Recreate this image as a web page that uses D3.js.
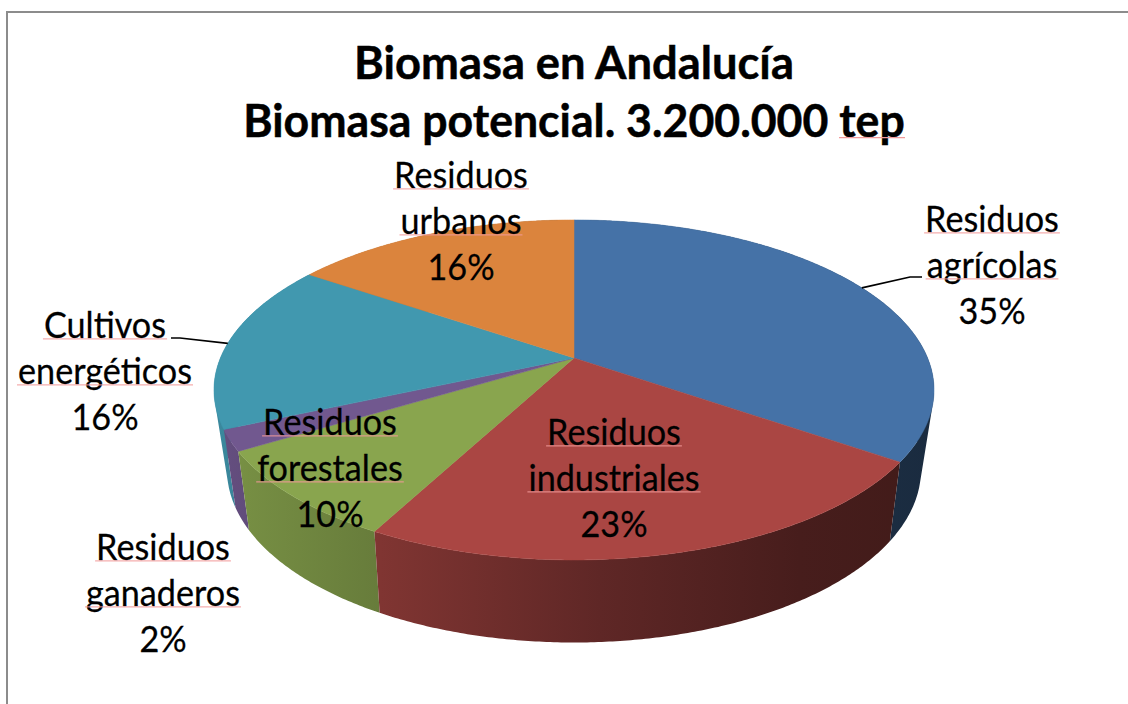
<!DOCTYPE html>
<html lang="es">
<head>
<meta charset="utf-8">
<script src="https://cdn.jsdelivr.net/npm/d3@7/dist/d3.min.js"></script>
<style>
html,body{margin:0;padding:0;background:#fff;overflow:hidden}
svg{display:block}
text{font-family:Lato,"Open Sans",sans-serif;fill:#000}
</style>
</head>
<body>
<svg id="c" width="1128" height="704"></svg>
<script>
// ---- data ----
const titleLines = ["Biomasa en Andalucía", "Biomasa potencial. 3.200.000 tep"];
const categories = ["Residuos agrícolas", "Residuos industriales", "Residuos forestales", "Residuos ganaderos", "Cultivos energéticos", "Residuos urbanos"];
const percentLabels = [35, 23, 10, 2, 16, 16];
// drawn share of each slice as seen in the picture
const drawnShares = [34.6, 23.2, 8.6, 2.0, 16.1, 15.5];
const colors = ["#4572A7", "#AA4643", "#89A54E", "#71588F", "#4198AF", "#DB843D"];

// ---- layout ----
const W = 1128, H = 704;
const topPlane = {cx: 574, cy: 358, R: 353.6, H: 164, k: 0.188};
const basePlane = {cx: 574, cy: 435, R: 340, H: 166, k: 0.2};
const labelCenters = [992, 614, 330, 163, 105, 461];
const labelBaselines = [232, 445, 435, 560, 338, 188];
const lineGap = 46;
const labelFont = 36, titleFont = 46;
const labelScaleX = 0.95, titleScaleX = [0.985, 0.97];

const svg = d3.select("#c");
const defs = svg.append("defs");
const project = (a, p) => {
  const u = Math.sin(a), v = -Math.cos(a), d = 1 - p.k * v;
  return [p.cx + p.R * u / d, p.cy + p.H * v / d];
};
const pie = d3.pie().sort(null).value(d => d);
const arcs = pie(drawnShares);
const line = d3.line();
const step = Math.PI / 360;
const rim = (s, plane) => {
  const n = Math.max(1, Math.ceil((s.endAngle - s.startAngle) / step));
  const angle = d3.scaleLinear().domain([0, n]).range([s.startAngle, s.endAngle]);
  return d3.range(n + 1).map(j => project(angle(j), plane));
};

// chart frame
svg.append("path").attr("d", line([[7, H], [7, 12], [W, 12]]))
  .attr("fill", "none").attr("stroke", "#8c8c8c").attr("stroke-width", 2);

// shading of the outer wall along x, one horizontal gradient per slice
const shadeX = [214, 247, 380, 600, 800, 934];
const shadeF = [0.9, 0.86, 0.75, 0.56, 0.42, 0.38];
colors.forEach((col, i) => {
  const c = d3.rgb(col);
  const g = defs.append("linearGradient").attr("id", "wall" + i)
    .attr("gradientUnits", "userSpaceOnUse")
    .attr("x1", shadeX[0]).attr("x2", shadeX[shadeX.length - 1]).attr("y1", 0).attr("y2", 0);
  shadeX.forEach((x, j) => {
    g.append("stop")
      .attr("offset", (x - shadeX[0]) / (shadeX[shadeX.length - 1] - shadeX[0]))
      .attr("stop-color", d3.rgb(c.r * shadeF[j], c.g * shadeF[j], c.b * shadeF[j]).formatHex());
  });
});

// each wall is one path of small quads, all wound the same way, so the fold at the silhouette stays filled
const wallPath = s => {
  const t = rim(s, topPlane), b = rim(s, basePlane);
  return d3.range(t.length - 1).map(j => {
    const q = [t[j], t[j + 1], b[j + 1], b[j]];
    return line(d3.polygonArea(q) < 0 ? q.reverse() : q) + "Z";
  }).join("");
};
const depthOrder = arcs.map((s, i) => ({s, i}))
  .sort((p, q) => (-Math.cos((p.s.startAngle + p.s.endAngle) / 2)) - (-Math.cos((q.s.startAngle + q.s.endAngle) / 2)));
svg.append("g").selectAll("path").data(depthOrder).join("path")
  .attr("d", d => wallPath(d.s))
  .attr("fill", d => `url(#wall${d.i})`).attr("fill-rule", "nonzero");

// top faces
svg.append("g").selectAll("path").data(arcs).join("path")
  .attr("d", s => line([[topPlane.cx, topPlane.cy], ...rim(s, topPlane)]) + "Z")
  .attr("fill", (s, i) => colors[i]).attr("stroke", (s, i) => colors[i]).attr("stroke-width", 0.5);

// leader lines start from the middle of their slice
const leaders = [
  {i: 0, pts: [[910, 277], [922, 277]]},
  {i: 4, pts: [[180, 338], [171, 338]]}
];
svg.append("g").selectAll("path").data(leaders).join("path")
  .attr("d", d => {
    const s = arcs[d.i];
    return line([project((s.startAngle + s.endAngle) / 2, topPlane), ...d.pts]);
  })
  .attr("fill", "none").attr("stroke", "#000").attr("stroke-width", 1.6);

// data labels, with the pink spell-check underline below the words
categories.forEach((name, i) => {
  const x = labelCenters[i], y0 = labelBaselines[i];
  const lines = [...name.split(" "), percentLabels[i] + "%"];
  lines.forEach((t, j) => {
    const y = y0 + j * lineGap;
    const g = svg.append("g").attr("transform", `translate(${x},${y}) scale(${labelScaleX},1)`);
    const txt = g.append("text").attr("text-anchor", "middle").attr("font-size", labelFont)
      .attr("stroke", "#000").attr("stroke-width", 0.25).text(t);
    if (j < 2) {
      const w = txt.node().getComputedTextLength() * labelScaleX;
      svg.append("line").attr("x1", x - w / 2 - 1).attr("x2", x + w / 2 + 1)
        .attr("y1", y + 0.8).attr("y2", y + 0.8)
        .attr("stroke", "#f29a9a").attr("stroke-width", 1.2).attr("stroke-opacity", 0.8);
    }
  });
});

// title
const titleY = [79, 137];
titleLines.forEach((t, i) => {
  const g = svg.append("g").attr("transform", `translate(574,${titleY[i]}) scale(${titleScaleX[i]},1)`);
  g.append("text").attr("text-anchor", "middle").attr("font-size", titleFont).attr("font-weight", 700)
    .attr("stroke", "#000").attr("stroke-width", 0.5).text(t);
});
svg.append("line").attr("x1", 839).attr("x2", 905).attr("y1", 137.6).attr("y2", 137.6)
  .attr("stroke", "#f29a9a").attr("stroke-width", 1.2);
</script>
</body>
</html>
